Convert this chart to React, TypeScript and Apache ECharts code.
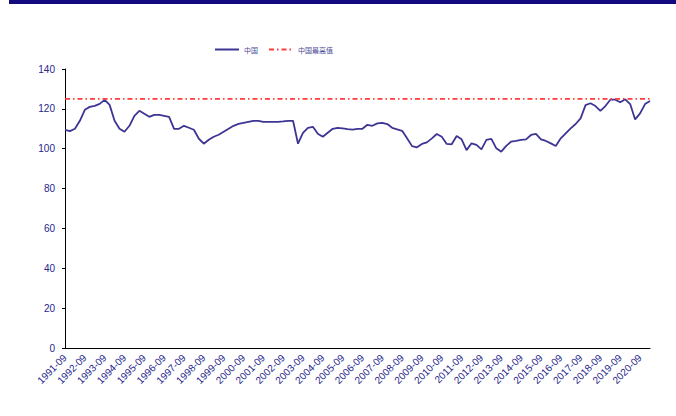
import React, { useEffect, useRef } from "react";
import * as echarts from "echarts";

// Quarterly categories: 1991-09 .. 2021-03
const START_YEAR = 1991;
const QUARTER_MONTHS = ["03", "06", "09", "12"];
const categories: string[] = [];
{
  let y = START_YEAR;
  let q = 2; // start at "09"
  for (let n = 0; n < 119; n++) {
    categories.push(`${y}-${QUARTER_MONTHS[q]}`);
    q++;
    if (q > 3) {
      q = 0;
      y++;
    }
  }
}

const chinaValues: number[] = [
  109.5, 108.8, 110, 114, 119.5, 121, 121.5, 122.5, 124.5, 122,
  114, 110, 108.5, 111.5, 116.5, 119, 117.5, 116, 117, 117,
  116.5, 116, 110, 110, 111.5, 110.5, 109.5, 105, 102.5, 104.5,
  106, 107, 108.5, 110, 111.5, 112.5, 113, 113.5, 114, 114,
  113.5, 113.5, 113.5, 113.5, 113.7, 114, 114, 102.5, 108, 110.5,
  111, 107.5, 106, 108, 110, 110.5, 110.2, 109.8, 109.6, 110,
  110, 112, 111.5, 112.7, 113, 112.4, 110.5, 109.7, 109, 105.2,
  101.3, 100.7, 102.4, 103.2, 105.2, 107.4, 106, 102.4, 102.2, 106.4,
  104.7, 99.3, 102.7, 101.9, 99.7, 104.4, 104.9, 100.2, 98.5, 101.4,
  103.6, 103.9, 104.4, 104.7, 106.9, 107.4, 104.7, 103.9, 102.7, 101.4,
  105.2, 107.7, 110.2, 112.4, 115.2, 121.9, 122.8, 121.4, 119, 121.4,
  124.6, 124.6, 123.3, 124.8, 122.4, 114.7, 117.7, 122.4, 123.9,
];

const CHINA_MAX = 125;
const maxValues: number[] = categories.map(() => CHINA_MAX);

const Y_MIN = 0;
const Y_MAX = 140;
const Y_INTERVAL = 20;

const TEXT_COLOR = "#26268C";

export default function App() {
  const ref = useRef<HTMLDivElement>(null);
  useEffect(() => {
    if (!ref.current) return;
    const chart = echarts.init(ref.current, undefined, { renderer: "svg" });
    chart.setOption({
      animation: false,
      backgroundColor: "#ffffff",
      graphic: [
        {
          type: "rect",
          left: 9,
          top: 0,
          shape: { width: 667, height: 4 },
          style: { fill: "#140A80" },
        },
      ],
      legend: {
        left: 209,
        top: 41,
        itemWidth: 24,
        itemHeight: 8,
        itemGap: 10,
        itemStyle: { opacity: 0 },
        textStyle: {
          fontSize: 7,
          color: "#4A4A96",
          fontFamily: "Noto Sans CJK SC",
        },
        data: ["中国", "中国最高值"],
      },
      grid: { left: 65, right: 26, top: 69, bottom: 68, containLabel: false },
      xAxis: {
        type: "category",
        data: categories,
        boundaryGap: false,
        axisLine: { lineStyle: { color: "#000000", width: 1 } },
        axisTick: { show: false },
        axisLabel: {
          interval: 3,
          rotate: 45,
          fontSize: 10,
          margin: 8,
          color: TEXT_COLOR,
          fontFamily: "Liberation Sans",
        },
        splitLine: { show: false },
      },
      yAxis: {
        type: "value",
        min: Y_MIN,
        max: Y_MAX,
        interval: Y_INTERVAL,
        axisLine: { show: true, lineStyle: { color: "#000000", width: 1 } },
        axisTick: { show: true, length: 3, lineStyle: { color: "#000000" } },
        axisLabel: {
          fontSize: 10,
          margin: 10,
          color: TEXT_COLOR,
          fontFamily: "Liberation Sans",
        },
        splitLine: { show: false },
      },
      series: [
        {
          name: "中国",
          type: "line",
          data: chinaValues,
          symbol: "none",
          lineStyle: { color: "#3D3594", width: 1.8 },
          itemStyle: { color: "#3D3594" },
        },
        {
          name: "中国最高值",
          type: "line",
          data: maxValues,
          symbol: "none",
          lineStyle: { color: "#FF3B3B", width: 1.6, type: [5, 3, 1.5, 3] },
          itemStyle: { color: "#FF3B3B" },
        },
      ],
    });
    return () => chart.dispose();
  }, []);
  return (
    <div
      ref={ref}
      style={{ position: "fixed", left: 0, top: 0, width: 676, height: 416 }}
    />
  );
}
